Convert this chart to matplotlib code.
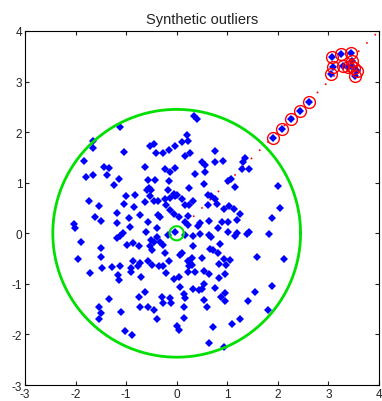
import numpy as np
import matplotlib
matplotlib.use('Agg')
import matplotlib.pyplot as plt

# inlier points
pts_x = [-1.13, -1.66, -1.66, -1.84, -1.04, -0.53, -0.44, -0.40, -0.27, -0.16,
         -1.43, -1.33, -1.38, -1.79, -1.66, -1.15, -1.23, -0.62, -0.24, -0.14,
         -0.57, -0.42, -0.15, -0.55, -0.51, -0.59, -0.18, -0.06, -0.04, -1.01,
         -0.82, -0.53, -0.44, -0.37, -0.24, -0.13, -1.74, -1.54, -1.04, -0.84,
         -0.62, -0.22, -1.18, -0.72, -0.37, -0.32, -0.14, -0.06, -1.61, -0.95,
         0.35, 0.40, 0.20, 0.10, 0.23, -0.03, 0.75, 0.27, 0.17, 0.50,
         0.56, 0.76, 0.91, 1.35, 1.32, 1.29, 1.43, -0.03, 0.37, 0.56,
         1.08, 1.02, 1.16, 0.55, 0.25, 0.00, 0.10, 0.33, 0.25, 0.17,
         0.62, 0.68, 0.75, 0.79, 0.62, 0.93, 1.04, 1.14, 1.25, 2.01,
         2.05, 1.88, 0.23, 0.04,
         -2.04, -2.02, -1.50, -1.19, -1.90, -1.96, -1.50, -1.50, -1.72, -1.48,
         -1.28, -1.13, -1.17, -1.15, -1.33, -1.54, -1.50, -1.54, -1.10, -0.90,
         -0.86, -0.98, -0.86, -0.75, -1.06, -1.13, -1.19, -0.93, -0.60, -0.57,
         -0.51, -0.53, -0.49, -0.44, -0.39, -0.32, -0.27, -0.18, -0.39, -0.24,
         -0.16, -0.57, -0.72, -0.77, -0.49, -0.34, -0.27, -0.21, -0.90, -0.71,
         -0.62, -0.75, -0.73, -0.57, -0.44, -0.39, -0.29, -0.13, -0.11, -0.27,
         -1.02, -0.88, -0.05, -0.03,
         0.17, 0.23, 0.46, 0.42, 0.63, 0.89, 1.02, 1.19, 1.43, 1.39,
         1.83, 0.17, 0.33, 0.46, 0.63, 0.68, 0.81, 1.01, 1.16, 1.19,
         0.86, 0.33, 0.66, 0.71, 0.81, 0.10, 0.07, 0.30, 0.50, 0.27,
         0.22, 0.30, 0.25, 0.37, 0.22, 0.93, 1.06, 0.83, 0.97, 0.55,
         0.63, 0.83, 0.95, 0.05, 0.07, 0.33, 0.50, 0.44, 0.55, 0.75,
         0.88, 0.96, 0.95, 0.15, 0.17, 0.55, 0.60, 0.15, 0.15, 0.00,
         0.04, 1.58, 2.13, 1.88, 1.54, 1.41, 1.81, 1.25, 1.10, 0.71,
         0.63, 0.93]
pts_y = [2.11, 1.83, 1.68, 1.43, 1.61, 1.73, 1.76, 1.59, 1.59, 1.65,
         1.31, 1.29, 1.16, 1.12, 1.16, 1.07, 0.95, 1.31, 1.27, 1.22,
         1.06, 1.05, 1.04, 0.89, 0.86, 0.86, 0.86, 0.77, 0.73, 0.73,
         0.75, 0.73, 0.64, 0.63, 0.68, 0.70, 0.64, 0.54, 0.58, 0.52,
         0.61, 0.56, 0.41, 0.37, 0.37, 0.33, 0.46, 0.38, 0.33, 0.30,
         2.32, 2.26, 1.95, 1.81, 1.83, 1.73, 1.63, 1.59, 1.52, 1.40,
         1.35, 1.41, 1.43, 1.49, 1.40, 1.27, 1.27, 1.30, 1.17, 1.22,
         1.07, 1.04, 0.91, 0.97, 0.89, 0.75, 0.68, 0.64, 0.56, 0.56,
         0.76, 0.73, 0.68, 0.58, 0.56, 0.48, 0.54, 0.48, 0.38, 0.93,
         0.50, 0.30, 0.35, 0.33,
         0.18, 0.10, 0.25, 0.20, -0.17, -0.50, -0.30, -0.46, -0.79, -0.69,
         -0.67, -0.65, -0.83, -0.92, -1.30, -1.45, -1.58, -1.70, -1.56, -0.69,
         -0.54, -0.23, -0.19, -0.26, 0.00, -0.05, -0.10, 0.12, 0.03, 0.22,
         -0.13, -0.25, -0.34, -0.18, -0.08, -0.17, -0.23, -0.04, 0.10, -0.38,
         -0.54, -0.54, -0.58, -0.65, -0.63, -0.64, -0.64, -0.79, -0.76, -0.87,
         -1.16, -1.25, -1.45, -1.45, -1.51, -1.70, -1.25, -1.27, -1.37, -1.37,
         -1.93, -2.02, -0.90, 0.03,
         0.22, 0.16, 0.20, 0.14, 0.25, 0.23, 0.22, 0.27, 0.02, -0.02,
         -0.02, -0.04, -0.06, -0.02, -0.04, -0.08, 0.10, 0.02, -0.05, 0.00,
         -0.21, -0.25, -0.31, -0.34, -0.38, -0.38, -0.43, -0.48, -0.48, -0.58,
         -0.54, -0.62, -0.65, -0.76, -0.76, -0.51, -0.52, -0.61, -0.63, -0.74,
         -0.81, -0.89, -0.81, -0.87, -1.07, -1.10, -1.10, -1.13, -1.00, -1.09,
         -1.25, -1.18, -1.33, -1.20, -1.27, -1.31, -1.45, -1.45, -1.68, -1.84,
         -1.91, -0.46, -0.51, -1.04, -1.16, -1.33, -1.51, -1.70, -1.79, -1.86,
         -2.16, -2.24]

# outliers (circled in red)
out_x = [1.91, 2.08, 2.26, 2.43, 2.61, 3.07, 3.24, 3.44, 3.09, 3.05,
         3.28, 3.38, 3.46, 3.44, 3.51, 3.56, 3.53]
out_y = [1.89, 2.06, 2.26, 2.42, 2.60, 3.48, 3.54, 3.57, 3.28, 3.15,
         3.31, 3.29, 3.41, 3.31, 3.26, 3.20, 3.11]

center = (0.0, 0.0)
radius = 2.45
small_radius = 0.14

plt.rcParams['font.family'] = 'Liberation Sans'
plt.rcParams['axes.unicode_minus'] = False

fig = plt.figure(figsize=(3.82, 4.02), dpi=100)
ax = fig.add_axes([0.0654, 0.0398, 0.9266, 0.8806])

# dotted direction line
ax.plot([0, 4], [0, 4], color='red', linestyle=(0, (1, 6)), linewidth=1.2)

ax.plot(pts_x, pts_y, 'D', color='blue', markersize=3.8, markeredgewidth=0)
ax.plot(out_x, out_y, 'D', color='blue', markersize=3.8, markeredgewidth=0)
ax.plot(out_x, out_y, 'o', markerfacecolor='none', markeredgecolor='red',
        markersize=8.5, markeredgewidth=1.0)

t = np.linspace(0, 2 * np.pi, 400)
ax.plot(center[0] + radius * np.cos(t), center[1] + radius * np.sin(t),
        color='#00e000', linewidth=2)
ax.plot(center[0] + small_radius * np.cos(t), center[1] + small_radius * np.sin(t),
        color='#00e000', linewidth=1.5)

ax.set_xlim(-3, 4)
ax.set_ylim(-3, 4)
ax.set_xticks(range(-3, 5))
ax.set_yticks(range(-3, 5))
ax.tick_params(direction='in', top=True, right=True, length=3, labelsize=8.5,
               pad=2, colors='#222222')
for s in ax.spines.values():
    s.set_linewidth(0.8)
ax.set_title('Synthetic outliers', fontsize=10.5, color='#222222', pad=6)

fig.savefig('out.png', dpi=100)
